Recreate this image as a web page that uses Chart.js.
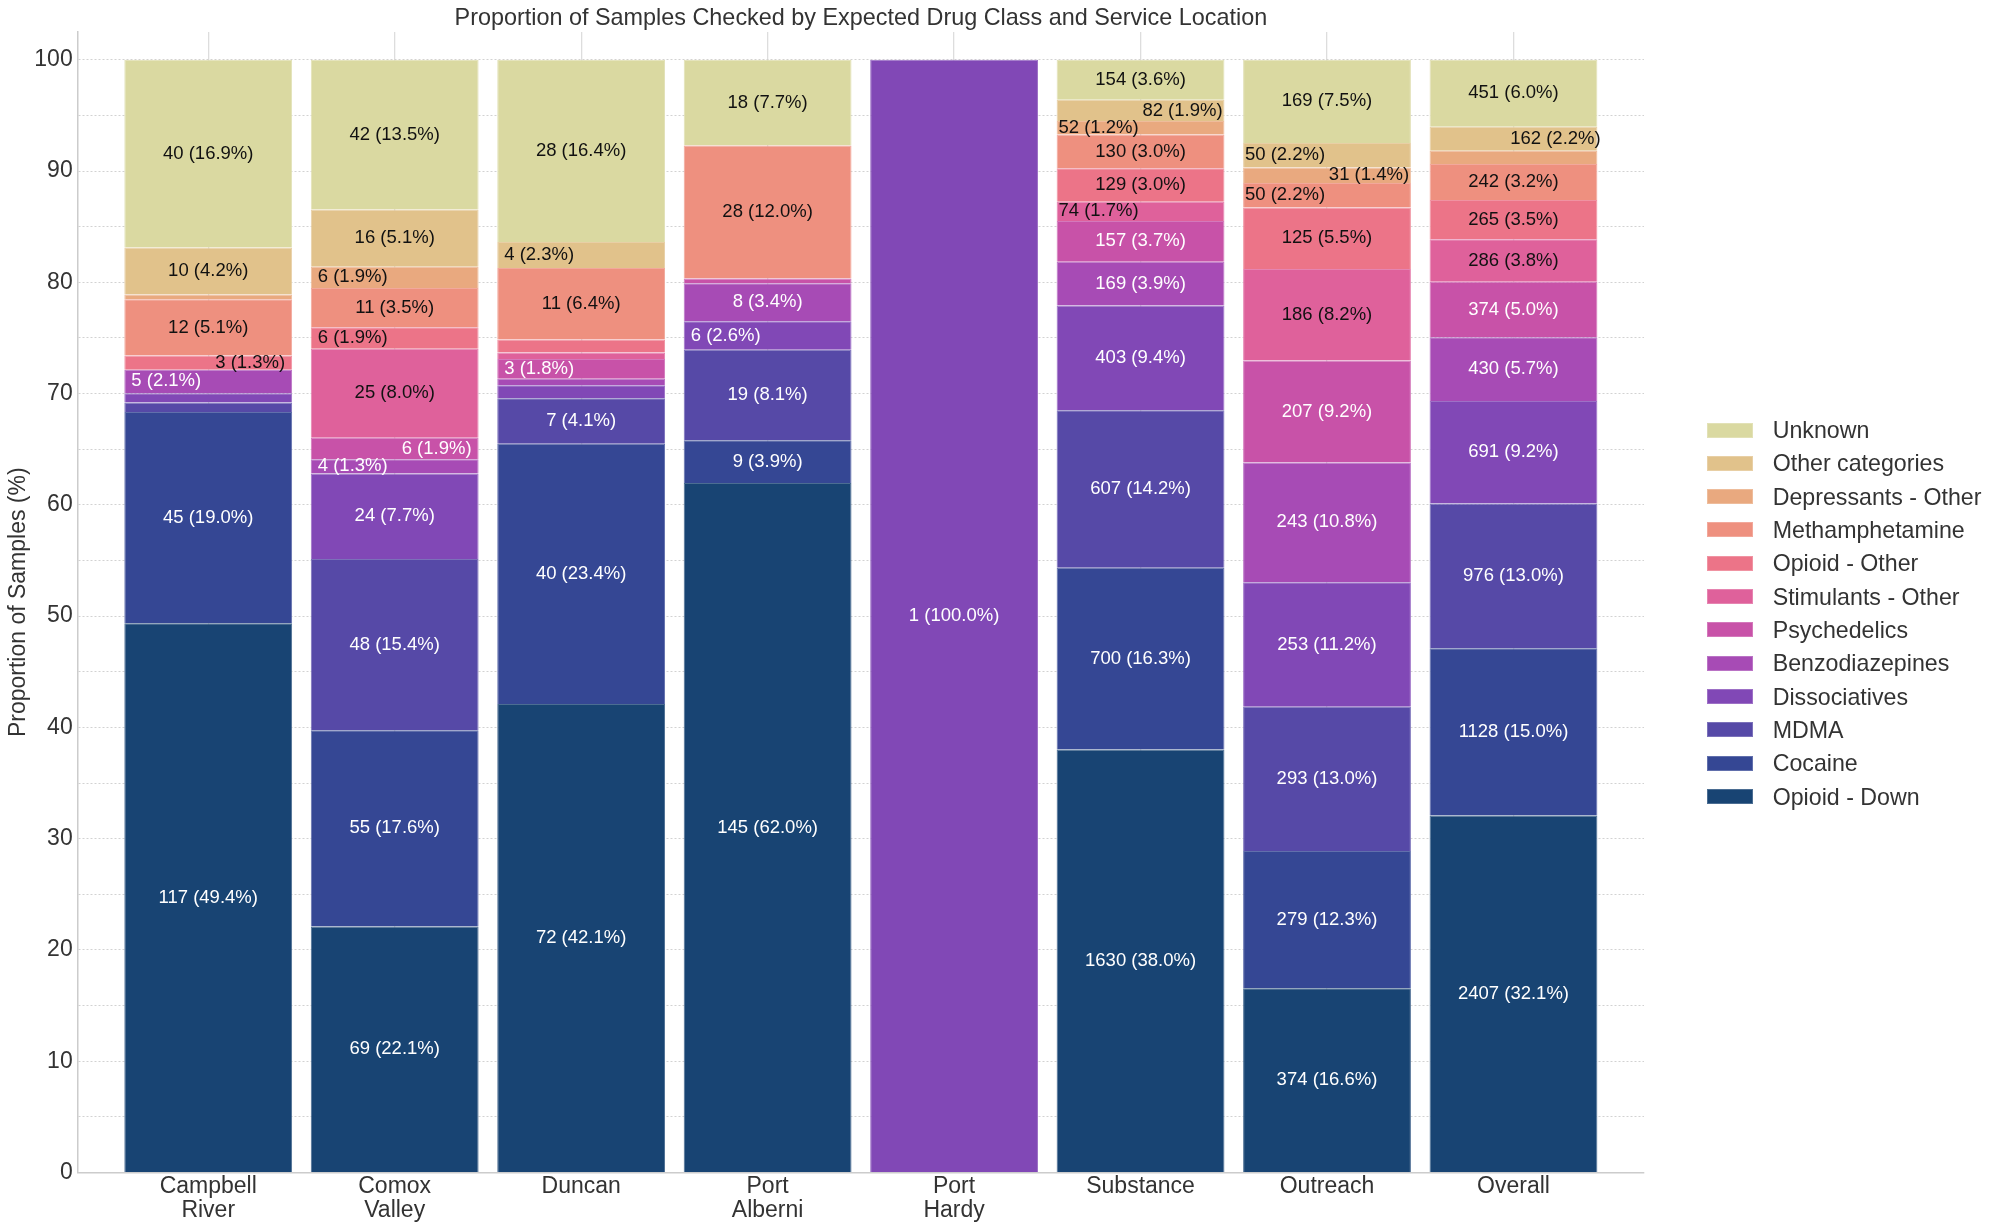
<!DOCTYPE html>
<html>
<head>
<meta charset="utf-8">
<script src="https://cdn.jsdelivr.net/npm/chart.js@4.4.1/dist/chart.umd.min.js"></script>
<style>
  html, body { margin: 0; padding: 0; background: #ffffff; }
  #wrap { position: relative; width: 2000px; height: 1232px; overflow: hidden; }
  #chart { position: absolute; left: 0; top: 0; }
  #legend { position: absolute; left: 0; top: 0; font-family: "Liberation Sans", Arial, sans-serif; font-size: 23.2px; color: #333333; }
  .lg-item { position: absolute; white-space: nowrap; }
  .lg-box { position: absolute; width: 46px; height: 15px; box-sizing: border-box; border: 1px solid; }
  .lg-text { position: absolute; height: 26px; line-height: 26px; }
</style>
</head>
<body>
<div id="wrap">
  <canvas id="chart" width="2000" height="1232"></canvas>
  <div id="legend"></div>
</div>
<script>
// ---------------- data ----------------
const chartTitle = 'Proportion of Samples Checked by Expected Drug Class and Service Location';
const yAxisTitle = 'Proportion of Samples (%)';

const locations = ['Campbell River', 'Comox Valley', 'Duncan', 'Port Alberni', 'Port Hardy', 'Substance', 'Outreach', 'Overall'];
const locationLabels = [['Campbell', 'River'], ['Comox', 'Valley'], 'Duncan', ['Port', 'Alberni'], ['Port', 'Hardy'], 'Substance', 'Outreach', 'Overall'];

const seriesNames = ['Opioid - Down', 'Cocaine', 'MDMA', 'Dissociatives', 'Benzodiazepines', 'Psychedelics',
  'Stimulants - Other', 'Opioid - Other', 'Methamphetamine', 'Depressants - Other', 'Other categories', 'Unknown'];

// sample counts per location (order of `locations`)
const opioidDownN   = [117, 69, 72, 145, 0, 1630, 374, 2407];
const cocaineN      = [45, 55, 40, 9, 0, 700, 279, 1128];
const mdmaN         = [2, 48, 7, 19, 0, 607, 293, 976];
const dissociativesN= [2, 24, 2, 6, 1, 403, 253, 691];
const benzosN       = [5, 4, 1, 8, 0, 169, 243, 430];
const psychedelicsN = [0, 6, 3, 1, 0, 157, 207, 374];
const stimulantsN   = [0, 25, 1, 0, 0, 74, 186, 286];
const opioidOtherN  = [3, 6, 2, 0, 0, 129, 125, 265];
const methN         = [12, 11, 11, 28, 0, 130, 50, 242];
const depressantsN  = [1, 6, 0, 0, 0, 52, 31, 90];
const otherCatN     = [10, 16, 4, 0, 0, 82, 50, 162];
const unknownN      = [40, 42, 28, 18, 0, 154, 169, 451];

// percentages printed in the segment labels (0 = no label printed)
const opioidDownPct   = [49.4, 22.1, 42.1, 62.0, 0, 38.0, 16.6, 32.1];
const cocainePct      = [19.0, 17.6, 23.4, 3.9, 0, 16.3, 12.3, 15.0];
const mdmaPct         = [0, 15.4, 4.1, 8.1, 0, 14.2, 13.0, 13.0];
const dissociativesPct= [0, 7.7, 0, 2.6, 100.0, 9.4, 11.2, 9.2];
const benzosPct       = [2.1, 1.3, 0, 3.4, 0, 3.9, 10.8, 5.7];
const psychedelicsPct = [0, 1.9, 1.8, 0, 0, 3.7, 9.2, 5.0];
const stimulantsPct   = [0, 8.0, 0, 0, 0, 1.7, 8.2, 3.8];
const opioidOtherPct  = [1.3, 1.9, 0, 0, 0, 3.0, 5.5, 3.5];
const methPct         = [5.1, 3.5, 6.4, 12.0, 0, 3.0, 2.2, 3.2];
const depressantsPct  = [0, 1.9, 0, 0, 0, 1.2, 1.4, 0];
const otherCatPct     = [4.2, 5.1, 2.3, 0, 0, 1.9, 2.2, 2.2];
const unknownPct      = [16.9, 13.5, 16.4, 7.7, 0, 3.6, 7.5, 6.0];

const yTicks = [0, 10, 20, 30, 40, 50, 60, 70, 80, 90, 100];

// ---------------- styles ----------------
const seriesColors = ['#184473', '#354794', '#5649a7', '#8148b6', '#a74bb5', '#c852a8',
  '#df619b', '#ec7488', '#ee907f', '#e9a97f', '#e1c28b', '#dad9a1'];
const FONT = '"Liberation Sans", Arial, sans-serif';

const countSeries = [opioidDownN, cocaineN, mdmaN, dissociativesN, benzosN, psychedelicsN,
  stimulantsN, opioidOtherN, methN, depressantsN, otherCatN, unknownN];
const labelPctSeries = [opioidDownPct, cocainePct, mdmaPct, dissociativesPct, benzosPct, psychedelicsPct,
  stimulantsPct, opioidOtherPct, methPct, depressantsPct, otherCatPct, unknownPct];

// share of samples at each location (%)
const totals = locations.map((_, j) => countSeries.reduce((s, arr) => s + arr[j], 0));
const shareSeries = countSeries.map(arr => arr.map((n, j) => n / totals[j] * 100));

function lighten(hex, f) {
  const n = parseInt(hex.slice(1), 16);
  const r = (n >> 16) & 255, g = (n >> 8) & 255, b = n & 255;
  const m = c => Math.round(c + (255 - c) * f);
  return `rgb(${m(r)},${m(g)},${m(b)})`;
}

const datasets = seriesNames.map((name, i) => ({
  label: name,
  data: shareSeries[i].map((v, j) => ({ x: j, y: v > 0 ? v : null })),
  backgroundColor: seriesColors[i],
  borderColor: lighten(seriesColors[i], 0.22),
  borderWidth: 1,
  borderSkipped: 'start',
  barPercentage: 0.9,
  categoryPercentage: 1.0
}));

// segment labels: "count (pct%)"; thin segments alternate left / right of centre
const segmentLabels = {
  id: 'segmentLabels',
  afterDatasetsDraw(chart) {
    const ctx = chart.ctx;
    ctx.save();
    ctx.font = `18.5px ${FONT}`;
    ctx.textAlign = 'center';
    ctx.textBaseline = 'middle';
    locations.forEach((loc, j) => {
      let alt = -1;
      seriesNames.forEach((name, i) => {
        const share = shareSeries[i][j];
        if (!share) return;
        let side = 0;
        if (share < 2.8) { side = alt; alt = -alt; } else { alt = -1; }
        const p = labelPctSeries[i][j];
        if (!p) return;
        const el = chart.getDatasetMeta(i).data[j];
        if (!el) return;
        const x = el.x + side * el.width * 0.25;
        const y = (el.y + el.base) / 2;
        ctx.fillStyle = i <= 5 ? '#ffffff' : '#111111';
        ctx.fillText(`${countSeries[i][j]} (${p.toFixed(1)}%)`, x, y);
      });
    });
    ctx.restore();
  }
};

const chart = new Chart(document.getElementById('chart'), {
  type: 'bar',
  data: { datasets },
  options: {
    responsive: false,
    animation: false,
    devicePixelRatio: 1,
    layout: { padding: { left: 0, right: 356, top: 0, bottom: 0 } },
    plugins: {
      legend: { display: false },
      tooltip: { enabled: false },
      title: {
        display: true,
        text: chartTitle,
        fullSize: false,
        color: '#333333',
        font: { family: FONT, size: 23.4, weight: 'normal', lineHeight: 1.2 },
        padding: { top: 4.5, bottom: -0.6 }
      }
    },
    scales: {
      x: {
        type: 'linear',
        min: -0.7,
        max: 7.7,
        stacked: true,
        offset: false,
        afterBuildTicks: s => { s.ticks = locations.map((_, i) => ({ value: i })); },
        afterFit: s => { s.height = 59.5; },
        grid: { display: true, offset: false, color: '#dddddd', lineWidth: 1.3, drawTicks: false },
        border: { display: true, color: '#cccccc', width: 1.5 },
        ticks: {
          autoSkip: false, maxRotation: 0, minRotation: 0, padding: 2,
          color: '#333333',
          font: { family: FONT, size: 23, lineHeight: 1.06 },
          callback: (v, idx) => locationLabels[idx]
        }
      },
      y: {
        min: 0,
        max: 102.5,
        stacked: true,
        afterBuildTicks: s => {
          const t = [];
          for (let k = 0; k <= 20; k++) t.push({ value: k * 5 });
          s.ticks = t;
        },
        afterFit: s => { s.width = 77.7; },
        grid: { display: true, color: '#d2d2d2', lineWidth: 1, drawTicks: false },
        border: { display: true, color: '#cccccc', width: 1.5, dash: [2, 2] },
        ticks: {
          autoSkip: false, padding: 5, color: '#333333',
          font: { family: FONT, size: 23 },
          callback: v => (yTicks.includes(v) ? String(v) : '')
        },
        title: {
          display: true, text: yAxisTitle, color: '#333333',
          font: { family: FONT, size: 23, lineHeight: 1.2 },
          padding: { top: 4.5, bottom: 0 }
        }
      }
    }
  },
  plugins: [segmentLabels]
});

// legend (reverse order, top = last series)
(function buildLegend() {
  const lg = document.getElementById('legend');
  const order = seriesNames.map((n, i) => i).reverse();
  order.forEach((i, row) => {
    const cy = 430 + row * 33.33;
    const item = document.createElement('div');
    item.className = 'lg-item';
    item.style.left = '0px';
    item.style.top = '0px';
    const box = document.createElement('div');
    box.className = 'lg-box';
    box.style.left = '1706.7px';
    box.style.top = (cy - 7.5) + 'px';
    box.style.background = seriesColors[i];
    box.style.borderColor = lighten(seriesColors[i], 0.22);
    const tx = document.createElement('div');
    tx.className = 'lg-text';
    tx.style.left = '1772.7px';
    tx.style.top = (cy - 13) + 'px';
    tx.textContent = seriesNames[i];
    item.appendChild(box);
    item.appendChild(tx);
    lg.appendChild(item);
  });
})();
</script>
</body>
</html>
